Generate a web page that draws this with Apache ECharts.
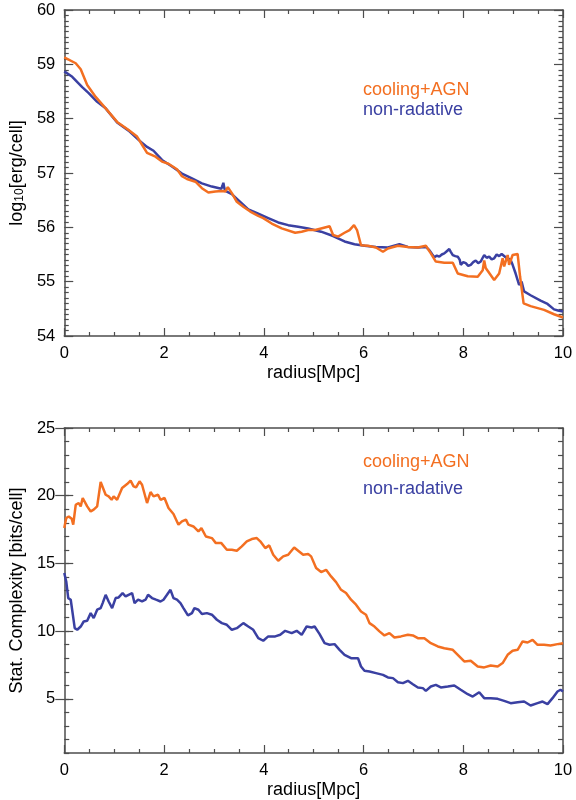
<!DOCTYPE html>
<html>
<head>
<meta charset="utf-8">
<script src="https://cdn.jsdelivr.net/npm/echarts@6/dist/echarts.min.js"></script>
<style>
html,body{margin:0;padding:0;background:#fff;}
#chart{width:576px;height:800px;}
</style>
</head>
<body>
<div id="chart"></div>
<script>
// ---- data (radius [Mpc], value) ----
var seriesNames = ['cooling+AGN', 'non-radative'];

var topCoolingAGN = [
 [0,59.13],[0.23,59.02],[0.33,58.91],[0.46,58.62],[0.63,58.40],[0.83,58.19],[1.06,57.94],[1.29,57.79],
 [1.46,57.67],[1.56,57.52],[1.66,57.37],[1.83,57.30],[1.96,57.21],[2.09,57.17],[2.26,57.07],[2.36,56.94],
 [2.46,56.89],[2.63,56.84],[2.76,56.72],[2.89,56.64],[3.03,56.66],[3.16,56.67],[3.23,56.66],[3.28,56.74],
 [3.36,56.63],[3.46,56.47],[3.59,56.38],[3.73,56.29],[3.89,56.21],[3.99,56.17],[4.16,56.07],[4.36,55.98],
 [4.63,55.90],[4.76,55.92],[4.89,55.95],[5.03,55.95],[5.15,55.98],[5.32,56.02],[5.39,55.86],[5.49,55.83],
 [5.62,55.90],[5.72,55.95],[5.81,56.04],[5.87,55.95],[5.95,55.67],[6.09,55.66],[6.25,55.63],[6.39,55.55],
 [6.49,55.61],[6.69,55.66],[6.89,55.64],[7.09,55.63],[7.25,55.66],[7.35,55.52],[7.45,55.37],[7.62,55.35],
 [7.79,55.35],[7.89,55.15],[8.09,55.10],[8.29,55.09],[8.39,55.21],[8.42,55.39],[8.45,55.25],[8.62,55.03],
 [8.72,55.15],[8.79,55.43],[8.82,55.28],[8.89,55.49],[8.92,55.31],[8.99,55.49],[9.09,55.51],[9.14,55.09],
 [9.21,54.60],[9.35,54.55],[9.62,54.48],[9.82,54.40],[10,54.34]
];

var topNonRadative = [
 [0,58.87],[0.16,58.77],[0.36,58.58],[0.49,58.47],[0.66,58.31],[0.83,58.19],[1.06,57.93],[1.29,57.78],
 [1.49,57.61],[1.66,57.48],[1.79,57.41],[1.96,57.24],[2.16,57.12],[2.36,56.99],[2.56,56.90],[2.76,56.81],
 [2.96,56.75],[3.15,56.71],[3.17,56.76],[3.19,56.82],[3.21,56.72],[3.23,56.67],[3.36,56.61],[3.49,56.50],
 [3.69,56.33],[3.89,56.25],[4.09,56.17],[4.29,56.09],[4.49,56.04],[4.69,56.01],[4.89,55.98],[5.15,55.92],
 [5.39,55.84],[5.62,55.74],[5.82,55.69],[6.02,55.66],[6.25,55.64],[6.49,55.63],[6.72,55.69],[6.89,55.64],
 [7.09,55.63],[7.25,55.64],[7.32,55.58],[7.38,55.50],[7.42,55.45],[7.47,55.48],[7.52,55.46],[7.57,55.50],
 [7.62,55.52],[7.67,55.56],[7.72,55.60],[7.75,55.55],[7.79,55.49],[7.84,55.47],[7.89,55.46],[7.93,55.40],
 [7.95,55.31],[8.00,55.36],[8.05,55.34],[8.10,55.29],[8.15,55.31],[8.20,55.36],[8.25,55.39],[8.30,55.34],
 [8.35,55.37],[8.39,55.44],[8.42,55.49],[8.47,55.44],[8.52,55.46],[8.57,55.41],[8.62,55.43],[8.67,55.50],
 [8.72,55.47],[8.77,55.51],[8.81,55.53],[8.85,55.45],[8.89,55.40],[8.94,55.42],[8.99,55.31],[9.05,55.15],
 [9.12,54.94],[9.17,55.00],[9.22,54.82],[9.35,54.75],[9.55,54.65],[9.69,54.59],[9.82,54.49],[9.90,54.47],
 [10,54.45]
];

var bottomCoolingAGN = [
 [0,17.61],[0.04,18.35],[0.09,18.47],[0.15,18.30],[0.18,17.86],[0.23,19.33],[0.29,19.46],[0.33,19.21],
 [0.37,19.83],[0.41,19.78],[0.46,19.21],[0.53,18.84],[0.59,18.97],[0.66,19.21],[0.73,21.01],[0.77,20.94],
 [0.83,20.07],[0.89,19.95],[0.95,19.70],[0.99,19.95],[1.06,19.70],[1.16,20.57],[1.26,20.86],[1.33,21.11],
 [1.39,20.69],[1.44,20.62],[1.51,21.06],[1.56,20.81],[1.66,19.46],[1.73,20.27],[1.79,19.95],[1.88,20.07],
 [1.93,19.70],[2.01,19.83],[2.09,19.09],[2.19,18.65],[2.29,17.86],[2.36,18.10],[2.44,18.23],[2.49,17.86],
 [2.59,17.73],[2.69,17.36],[2.75,17.61],[2.84,16.99],[2.96,16.87],[3.04,16.50],[3.15,16.50],[3.26,16.01],
 [3.36,16.01],[3.46,15.94],[3.56,16.26],[3.66,16.63],[3.76,16.80],[3.86,16.87],[3.93,16.63],[4.03,16.13],
 [4.11,16.33],[4.19,15.64],[4.29,15.20],[4.39,15.52],[4.49,15.64],[4.61,16.18],[4.69,15.94],[4.79,15.64],
 [4.89,15.69],[4.95,15.52],[5.05,14.66],[5.15,14.36],[5.25,14.53],[5.35,14.04],[5.45,13.62],[5.55,13.05],
 [5.65,12.81],[5.75,12.32],[5.85,11.95],[5.95,11.45],[6.05,11.21],[6.12,10.59],[6.22,10.34],[6.32,9.98],
 [6.42,9.68],[6.52,9.85],[6.62,9.53],[6.75,9.61],[6.89,9.73],[6.99,9.68],[7.09,9.48],[7.22,9.48],
 [7.35,9.11],[7.49,8.87],[7.62,8.74],[7.79,8.62],[7.89,8.25],[8.02,7.76],[8.15,7.81],[8.29,7.39],
 [8.42,7.32],[8.55,7.46],[8.69,7.39],[8.79,7.64],[8.89,8.25],[8.99,8.55],[9.09,8.62],[9.19,9.24],
 [9.29,9.16],[9.39,9.36],[9.49,8.99],[9.62,8.99],[9.75,8.94],[9.89,9.04],[10,9.11]
];

var bottomNonRadative = [
 [0,14.29],[0.04,13.67],[0.08,12.44],[0.13,12.32],[0.16,12.39],[0.21,10.22],[0.26,10.10],[0.33,10.34],
 [0.39,10.71],[0.46,10.76],[0.53,11.33],[0.59,10.96],[0.66,11.58],[0.73,11.70],[0.77,12.07],[0.83,12.68],
 [0.89,12.19],[0.96,11.70],[1.03,12.44],[1.09,12.49],[1.17,12.81],[1.23,12.56],[1.29,12.68],[1.36,12.81],
 [1.41,12.07],[1.48,12.32],[1.56,12.19],[1.63,12.32],[1.68,12.68],[1.76,12.44],[1.84,12.32],[1.93,12.19],
 [1.99,12.32],[2.06,12.68],[2.13,13.05],[2.19,12.44],[2.26,12.32],[2.33,12.07],[2.39,11.70],[2.48,11.16],
 [2.56,11.33],[2.61,11.70],[2.69,11.58],[2.76,11.26],[2.86,11.33],[2.96,11.21],[3.06,10.84],[3.16,10.59],
 [3.26,10.47],[3.36,10.10],[3.46,10.22],[3.59,10.59],[3.69,10.34],[3.79,10.10],[3.89,9.48],[3.99,9.29],
 [4.09,9.61],[4.23,9.61],[4.33,9.73],[4.43,10.02],[4.56,9.85],[4.66,10.02],[4.76,9.73],[4.86,10.34],
 [4.96,10.27],[5.02,10.34],[5.12,9.78],[5.22,9.11],[5.32,8.99],[5.42,9.04],[5.52,8.62],[5.62,8.25],
 [5.75,8.00],[5.89,8.00],[5.95,7.39],[6.02,7.07],[6.12,7.02],[6.25,6.90],[6.39,6.77],[6.49,6.58],
 [6.59,6.53],[6.69,6.23],[6.79,6.16],[6.89,6.33],[6.99,6.08],[7.09,5.84],[7.19,5.79],[7.25,5.59],
 [7.35,5.91],[7.45,6.03],[7.55,5.84],[7.69,5.91],[7.82,5.99],[7.95,5.67],[8.09,5.34],[8.19,5.17],
 [8.32,5.49],[8.42,5.05],[8.55,5.05],[8.69,5.00],[8.82,4.85],[8.95,4.68],[9.09,4.75],[9.22,4.80],
 [9.35,4.51],[9.49,4.68],[9.59,4.80],[9.69,4.61],[9.79,5.05],[9.89,5.54],[9.95,5.67],[10,5.54]
];

var xTicks = [0, 2, 4, 6, 8, 10];
var topYTicks = [54, 55, 56, 57, 58, 59, 60];
var bottomYTicks = [5, 10, 15, 20, 25];

// ---- styling ----
var ORANGE = '#f36f21';
var BLUE = '#3a40a2';
var AXIS = '#4d4d4d';
var FONT = 'Liberation Sans';

function xAx(grid, pos, labels, name) {
  return {
    gridIndex: grid, type: 'value', position: pos, min: xTicks[0], max: xTicks[xTicks.length - 1],
    interval: xTicks[1] - xTicks[0],
    axisLine: { show: true, onZero: false, lineStyle: { color: AXIS, width: 1.5 } },
    axisTick: { show: true, inside: true, length: 8, lineStyle: { color: AXIS, width: 1.2 } },
    minorTick: { show: true, splitNumber: 4, length: 4, lineStyle: { color: AXIS, width: 1.2 } },
    splitLine: { show: false },
    axisLabel: { show: labels, margin: 9, color: '#000', fontSize: 16.5, fontFamily: FONT },
    name: name || '', nameLocation: 'middle', nameGap: 28,
    nameTextStyle: { color: '#000', fontSize: 18, fontFamily: FONT }
  };
}

var option = {
  animation: false,
  backgroundColor: '#fff',
  grid: [
    { left: 62, top: 10, width: 501, height: 326 },
    { left: 62, top: 428, width: 501, height: 325 }
  ],
  xAxis: [
    xAx(0, 'bottom', true, 'radius[Mpc]'),
    xAx(0, 'top', false),
    xAx(1, 'bottom', true, 'radius[Mpc]'),
    xAx(1, 'top', false)
  ],
  yAxis: [
    {
      gridIndex: 0, type: 'value', position: 'left', min: topYTicks[0], max: topYTicks[topYTicks.length - 1], interval: 1,
      axisLine: { show: true, onZero: false, lineStyle: { color: AXIS, width: 1.5 } },
      axisTick: { show: true, inside: true, length: 9, lineStyle: { color: AXIS, width: 1.2 } },
      minorTick: { show: true, splitNumber: 10, length: 4.5, lineStyle: { color: AXIS, width: 1.2 } },
      splitLine: { show: false },
      axisLabel: { margin: 9, color: '#000', fontSize: 16.5, fontFamily: FONT },
      name: 'log{s|10}[erg/cell]', nameLocation: 'middle', nameGap: 36, nameRotate: 90,
      nameTextStyle: { color: '#000', fontSize: 18, fontFamily: FONT,
        rich: { s: { fontSize: 12, fontFamily: FONT, color: '#000', padding: [6, 0, 0, 0] } } }
    },
    {
      gridIndex: 0, type: 'value', position: 'right', min: topYTicks[0], max: topYTicks[topYTicks.length - 1], interval: 1,
      axisLine: { show: true, onZero: false, lineStyle: { color: AXIS, width: 1.5 } },
      axisTick: { show: true, inside: true, length: 9, lineStyle: { color: AXIS, width: 1.2 } },
      minorTick: { show: true, splitNumber: 10, length: 4.5, lineStyle: { color: AXIS, width: 1.2 } },
      splitLine: { show: false }, axisLabel: { show: false }
    },
    {
      gridIndex: 1, type: 'value', position: 'left', min: 1, max: 25, interval: 1,
      axisLine: { show: true, onZero: false, lineStyle: { color: AXIS, width: 1.5 } },
      axisTick: { show: true, inside: true, length: 5, lineStyle: { color: AXIS, width: 1.2 } },
      splitLine: { show: false }, axisLabel: { show: false }
    },
    {
      gridIndex: 1, type: 'value', position: 'left', min: 1, max: 25,
      axisLine: { show: false },
      axisTick: { show: true, inside: true, length: 9, customValues: bottomYTicks, lineStyle: { color: AXIS, width: 1.2 } },
      splitLine: { show: false },
      axisLabel: { margin: 9, color: '#000', fontSize: 16.5, fontFamily: FONT, customValues: bottomYTicks },
      name: 'Stat. Complexity [bits/cell]', nameLocation: 'middle', nameGap: 36, nameRotate: 90,
      nameTextStyle: { color: '#000', fontSize: 18, fontFamily: FONT }
    },
    {
      gridIndex: 1, type: 'value', position: 'right', min: 1, max: 25, interval: 1,
      axisLine: { show: true, onZero: false, lineStyle: { color: AXIS, width: 1.5 } },
      axisTick: { show: true, inside: true, length: 5, lineStyle: { color: AXIS, width: 1.2 } },
      splitLine: { show: false }, axisLabel: { show: false }
    },
    {
      gridIndex: 1, type: 'value', position: 'right', min: 1, max: 25,
      axisLine: { show: false },
      axisTick: { show: true, inside: true, length: 9, customValues: bottomYTicks, lineStyle: { color: AXIS, width: 1.2 } },
      splitLine: { show: false }, axisLabel: { show: false }
    }
  ],
  series: [
    { name: seriesNames[1], type: 'line', xAxisIndex: 0, yAxisIndex: 0, data: topNonRadative,
      showSymbol: false, symbol: 'none', lineStyle: { color: BLUE, width: 2.5 }, z: 2 },
    { name: seriesNames[0], type: 'line', xAxisIndex: 0, yAxisIndex: 0, data: topCoolingAGN,
      showSymbol: false, symbol: 'none', lineStyle: { color: ORANGE, width: 2.5 }, z: 3 },
    { name: seriesNames[1], type: 'line', xAxisIndex: 2, yAxisIndex: 2, data: bottomNonRadative,
      showSymbol: false, symbol: 'none', lineStyle: { color: BLUE, width: 2.5 }, z: 2 },
    { name: seriesNames[0], type: 'line', xAxisIndex: 2, yAxisIndex: 2, data: bottomCoolingAGN,
      showSymbol: false, symbol: 'none', lineStyle: { color: ORANGE, width: 2.5 }, z: 3 }
  ],
  graphic: [
    { type: 'text', left: 363, top: 81, style: { text: seriesNames[0], fill: ORANGE, font: '18px "Liberation Sans"' } },
    { type: 'text', left: 363, top: 101, style: { text: seriesNames[1], fill: BLUE, font: '18px "Liberation Sans"' } },
    { type: 'text', left: 363, top: 453, style: { text: seriesNames[0], fill: ORANGE, font: '18px "Liberation Sans"' } },
    { type: 'text', left: 363, top: 480, style: { text: seriesNames[1], fill: BLUE, font: '18px "Liberation Sans"' } }
  ]
};

var chart = echarts.init(document.getElementById('chart'), null, { renderer: 'canvas' });
chart.setOption(option);
</script>
</body>
</html>
